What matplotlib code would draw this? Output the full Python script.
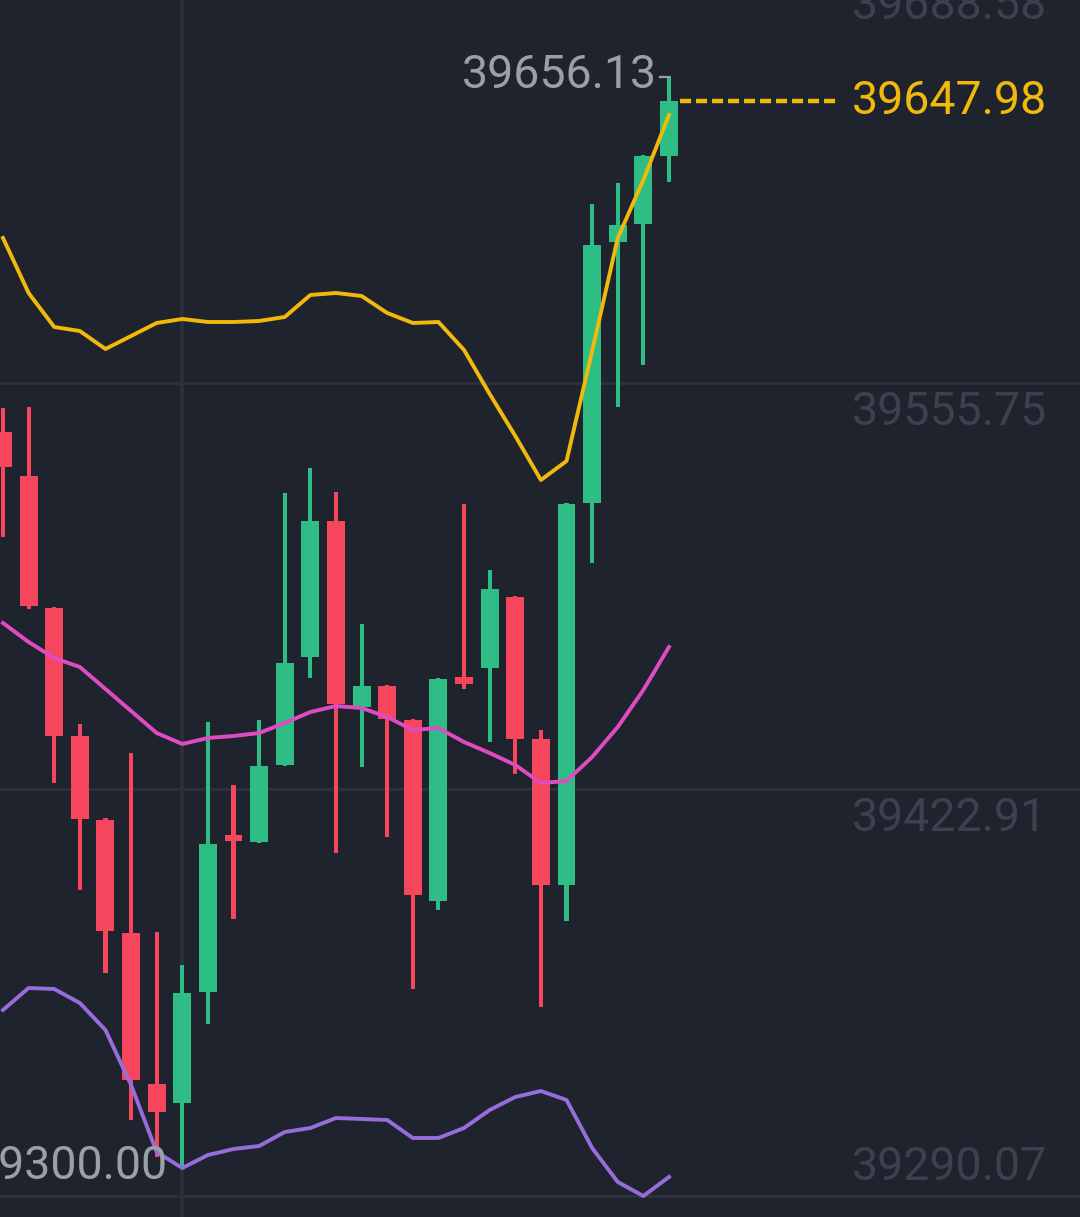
import matplotlib
matplotlib.use("Agg")
import matplotlib.pyplot as plt
import matplotlib.transforms as mtransforms
import numpy as np

# ---------------- data ----------------
opens = [39539.74, 39525.36, 39482.22, 39440.39, 39412.94, 39376.01, 39326.67,
         39320.46, 39356.73, 39408.04, 39405.75, 39430.91, 39466.21, 39510.65,
         39449.87, 39456.73, 39445.62, 39386.47, 39459.67, 39462.61, 39485.82,
         39439.41, 39391.70, 39516.53, 39601.83, 39607.71, 39629.93]
closes = [39528.30, 39482.87, 39440.39, 39413.27, 39376.67, 39327.97, 39317.51,
          39356.40, 39405.10, 39406.08, 39430.59, 39464.25, 39510.65, 39450.85,
          39456.73, 39445.95, 39388.47, 39459.02, 39457.38, 39488.43, 39439.41,
          39391.70, 39516.21, 39600.85, 39607.38, 39629.93, 39647.98]
highs = [39547.58, 39547.90, 39482.50, 39444.31, 39413.60, 39434.83, 39376.34,
         39365.55, 39444.97, 39424.38, 39445.62, 39519.80, 39527.97, 39520.13,
         39476.99, 39456.90, 39446.00, 39459.20, 39516.21, 39494.64, 39486.00,
         39442.35, 39516.40, 39614.25, 39621.11, 39630.10, 39656.13]
lows = [39505.42, 39482.00, 39425.03, 39390.06, 39362.94, 39314.90, 39302.81,
        39300.00, 39346.27, 39380.59, 39405.50, 39430.60, 39459.34, 39402.15,
        39430.26, 39407.38, 39357.71, 39383.53, 39455.75, 39438.43, 39427.97,
        39351.83, 39379.93, 39496.93, 39547.91, 39561.63, 39621.44]

upper_band = [39603.14, 39585.16, 39574.05, 39572.74, 39566.86, 39571.11, 39575.36,
              39576.67, 39575.68, 39575.68, 39576.01, 39577.32, 39584.51, 39585.16,
              39584.18, 39578.63, 39575.36, 39575.68, 39566.53, 39552.16, 39538.43,
              39524.05, 39530.26, 39566.21, 39603.14, 39622.09, 39643.33]
middle_band = [39477.32, 39471.11, 39465.88, 39462.94, 39455.75, 39448.56, 39441.37,
               39437.78, 39439.74, 39440.39, 39441.37, 39444.64, 39448.23, 39450.19,
               39449.54, 39446.60, 39442.35, 39443.00, 39438.43, 39434.83, 39430.91,
               39425.03, 39425.68, 39433.53, 39443.33, 39455.42, 39469.48]
lower_band = [39350.85, 39358.04, 39357.71, 39353.14, 39344.31, 39326.34, 39304.44,
              39299.21, 39303.46, 39305.42, 39306.40, 39310.98, 39312.29, 39315.55,
              39315.23, 39314.90, 39309.02, 39309.02, 39312.29, 39318.17, 39322.42,
              39324.38, 39321.44, 39305.75, 39294.64, 39290.06, 39296.27]

y_ticks = [39688.58, 39555.75, 39422.91, 39290.07]
y_tick_labels = ["39688.58", "39555.75", "39422.91", "39290.07"]
last_price = 39647.98
last_price_label = "39647.98"
high_value = 39656.13
high_label = "39656.13"
low_value = 39300.00
low_label = "39300.00"

# ---------------- style ----------------
BG = "#1f232e"
GRID = "#2b303b"
AXIS_TXT = "#3b414d"
HL_TXT = "#9aa0aa"
GREEN = "#2ebd85"
RED = "#f6465d"
YELLOW = "#f0b90b"
PINK = "#e04bc4"
PURPLE = "#976ddb"
FONT = "Roboto"
FS = 33.5

fig = plt.figure(figsize=(10.8, 12.17), dpi=100, facecolor=BG)
ax = fig.add_axes([0, 0, 1, 1])
ax.set_facecolor(BG)
ax.set_axis_off()

n = len(opens)
x = np.arange(n)
ax.set_xlim(-0.117, 42.046)
ax.set_ylim(39283.20, 39680.91)

o = np.array(opens); c = np.array(closes)
h = np.array(highs); l = np.array(lows)

# grid
for v in y_ticks:
    ax.axhline(v, color=GRID, lw=2.2, zorder=0)
low_idx = int(np.argmin(l))
high_idx = int(np.argmax(h))
ax.axvline(x[low_idx], color=GRID, lw=2.6, zorder=0)

# candles
colors = [GREEN if cc >= oo else RED for oo, cc in zip(o, c)]
ax.bar(x, h - l, bottom=l, width=0.16, color=colors, linewidth=0, zorder=2)
ax.bar(x, np.maximum(np.abs(c - o), 0.8), bottom=np.minimum(o, c), width=0.70,
       color=colors, linewidth=0, zorder=3)

# bands
ax.plot(x, upper_band, color=YELLOW, lw=2.8, zorder=4, solid_joinstyle="round")
ax.plot(x, middle_band, color=PINK, lw=2.8, zorder=4, solid_joinstyle="round")
ax.plot(x, lower_band, color=PURPLE, lw=2.8, zorder=4, solid_joinstyle="round")

blend = mtransforms.blended_transform_factory(ax.transAxes, ax.transData)

# y-axis labels
ymin, ymax = ax.get_ylim()
for v, lab in zip(y_ticks, y_tick_labels):
    dy = -42 if (v - ymin) > 30 else 16
    tr = mtransforms.offset_copy(blend, fig=fig, x=0, y=dy, units="dots")
    ax.text(0.9694, v, lab, transform=tr, ha="right", va="baseline",
            color=AXIS_TXT, fontsize=FS, family=FONT, zorder=5, clip_on=False)

# last price dashed line + label
ax.plot([0.6296, 0.774], [last_price, last_price], transform=blend, color=YELLOW,
        lw=3.2, dashes=(2.5, 1.1), zorder=5)
tr = mtransforms.offset_copy(blend, fig=fig, x=0, y=-13, units="dots")
ax.text(0.9694, last_price, last_price_label, transform=tr, ha="right", va="baseline",
        color=YELLOW, fontsize=FS, family=FONT, zorder=5)

# high label
tr = mtransforms.offset_copy(ax.transData, fig=fig, x=-12, y=-12, units="dots")
ax.text(x[high_idx], high_value, high_label, transform=tr, ha="right", va="baseline",
        color=HL_TXT, fontsize=FS, family=FONT, zorder=6)
tr2 = mtransforms.offset_copy(ax.transData, fig=fig, x=0, y=-1, units="dots")
dash_w = 9 / 25.615
ax.plot([x[high_idx] - dash_w, x[high_idx]], [high_value, high_value], transform=tr2,
        color=HL_TXT, lw=1.6, zorder=6)

# low label
tr = mtransforms.offset_copy(ax.transData, fig=fig, x=-14, y=-13, units="dots")
ax.text(x[low_idx], low_value, low_label, transform=tr, ha="right", va="baseline",
        color=HL_TXT, fontsize=FS, family=FONT, zorder=6)

fig.savefig("out.png", dpi=100, facecolor=BG)
